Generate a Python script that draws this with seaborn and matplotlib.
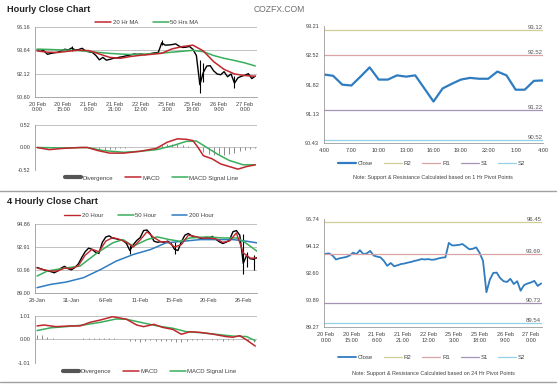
import numpy as np
import matplotlib.pyplot as plt
from matplotlib.lines import Line2D
import seaborn as sns

sns.set_style("white")
plt.rcParams['font.family'] = ['Liberation Sans', 'DejaVu Sans']

# ---------------- hourly data (20 Feb 0:00 -> 27 Feb) ----------------
hr_idx = list(range(0, 127, 2))
hr_close = [93.70, 93.72, 93.60, 93.38, 93.44, 93.48, 93.52, 93.60, 93.76, 93.68,
            93.90, 93.68, 93.72, 93.86, 93.60, 93.54, 93.50, 93.30, 93.02, 93.18,
            93.00, 93.05, 93.12, 93.15, 93.20, 93.24, 93.30, 93.34, 93.40, 93.38,
            93.40, 93.36, 93.38, 93.44, 93.48, 93.50, 94.45, 94.20, 94.22, 94.26,
            94.34, 94.10, 93.95, 93.98, 94.06, 93.75, 93.30, 91.40, 92.20, 92.62,
            92.64, 92.30, 92.10, 92.05, 92.25, 91.92, 92.10, 91.50, 91.85, 91.95,
            92.02, 92.12, 91.80, 91.96]
hr_wick_idx = [20, 72, 94, 96, 114]
hr_wick_low = [93.60, 94.20, 90.85, 91.60, 91.20]
hr_wick_high = [94.10, 94.75, 93.00, 92.80, 92.00]

hr_ma_idx = list(range(0, 127, 6))
hr_ma20 = [93.60, 93.52, 93.50, 93.58, 93.66, 93.62, 93.40, 93.18, 93.12, 93.24,
           93.32, 93.38, 93.45, 93.80, 94.05, 94.20, 93.60, 92.90, 92.40, 92.10,
           92.00, 91.95]
hr_ma60 = [93.77, 93.74, 93.70, 93.66, 93.62, 93.56, 93.50, 93.44, 93.40, 93.37,
           93.38, 93.42, 93.46, 93.52, 93.58, 93.64, 93.55, 93.30, 93.12, 92.98,
           92.82, 92.62]

hr_macd_idx = [0, 7, 15, 25, 29, 35, 42, 50, 59, 69, 75, 81, 86, 90, 93, 96, 101, 106, 111, 116, 121, 126]
hr_macd = [0.00, -0.05, -0.02, 0.00, 0.00, -0.07, -0.13, -0.13, -0.09, -0.02, 0.12,
           0.20, 0.19, 0.16, 0.00, -0.19, -0.26, -0.38, -0.44, -0.50, -0.44, -0.40]
hr_signal_idx = [0, 15, 29, 38, 50, 59, 69, 79, 86, 92, 98, 104, 111, 119, 126]
hr_signal = [0.00, -0.01, 0.00, -0.07, -0.11, -0.09, -0.05, 0.05, 0.14, 0.15, 0.00,
             -0.15, -0.30, -0.40, -0.40]
hr_div_idx = list(range(0, 127, 3))
hr_div = [0.00, -0.01, -0.02, -0.01, 0.00, 0.01, 0.01, 0.01, 0.02, 0.01, -0.01,
          -0.03, -0.04, -0.05, -0.04, -0.03, -0.02, -0.01, 0.00, 0.01, 0.01, 0.02,
          0.02, 0.03, 0.05, 0.07, 0.08, 0.07, 0.06, 0.04, 0.02, -0.04, -0.10, -0.15,
          -0.18, -0.16, -0.18, -0.15, -0.12, -0.08, -0.05, -0.03, -0.01]

hr_ticks = list(range(0, 121, 15))
hr_tick_labels = ['20 Feb\n0:00', '20 Feb\n15:00', '21 Feb\n6:00', '21 Feb\n21:00',
                  '22 Feb\n12:00', '25 Feb\n3:00', '25 Feb\n18:00', '26 Feb\n9:00',
                  '27 Feb\n0:00']
hr_price_ticks = [90.60, 92.12, 93.64, 96.16]
hr_macd_ticks = [-0.52, 0.00, 0.52]

# ---------------- 1 hr pivot chart (last 24 hours) ----------------
p1_hours = list(range(25))
p1_close = [92.06, 92.03, 91.82, 91.80, 92.01, 92.23, 91.94, 91.94, 92.04, 92.01,
            92.04, 91.73, 91.42, 91.73, 91.84, 91.94, 91.98, 91.96, 91.96, 92.13,
            92.04, 91.70, 91.70, 91.91, 91.92]
p1_levels = {'R2': 93.12, 'R1': 92.52, 'S1': 91.22, 'S2': 90.52}
p1_ticks = [90.43, 91.13, 91.82, 92.52, 93.21]
p1_xlabels = ['4:00', '7:00', '10:00', '13:00', '16:00', '19:00', '22:00', '1:00', '4:00']

# ---------------- 4 hourly data ----------------
h4_idx = list(range(0, 129, 2))
h4_close = [91.15, 91.05, 90.95, 90.85, 90.80, 90.70, 90.85, 91.10, 91.25, 91.05,
            90.95, 91.15, 91.45, 92.00, 92.50, 92.80, 92.70, 92.45, 92.35, 93.30,
            93.75, 93.85, 93.65, 93.60, 93.50, 93.45, 93.20, 92.60, 93.10, 93.45,
            93.70, 94.30, 94.35, 94.00, 93.40, 93.30, 93.35, 93.30, 93.40, 93.20,
            92.70, 92.60, 93.35, 93.90, 94.05, 93.85, 93.75, 93.70, 93.60, 93.70,
            93.65, 93.80, 93.55, 93.35, 93.20, 93.30, 93.50, 94.20, 94.30, 93.90,
            91.50, 92.20, 91.90, 91.85, 92.00]
h4_wick_idx = [54, 80, 120, 122, 126]
h4_wick_low = [92.30, 92.30, 90.60, 91.20, 90.90]
h4_wick_high = [93.10, 93.30, 94.00, 92.50, 92.20]

h4_ma20_idx = list(range(0, 129, 4))
h4_ma20 = [91.10, 90.95, 90.85, 90.85, 91.10, 91.05, 91.30, 92.20, 92.70, 92.50,
           93.40, 93.70, 93.55, 93.30, 92.90, 93.50, 94.20, 93.70, 93.35, 93.35,
           92.90, 93.10, 93.90, 93.80, 93.65, 93.65, 93.60, 93.30, 93.40, 94.10,
           92.40, 91.95, 91.95]
h4_ma50_idx = [0, 6, 15, 25, 35, 44, 50, 56, 64, 70, 77, 83, 89, 99, 108, 116, 120, 124, 128]
h4_ma50 = [90.42, 90.85, 91.07, 91.27, 92.40, 93.25, 93.53, 92.97, 93.53, 93.76,
           93.53, 93.39, 93.67, 93.76, 93.67, 93.67, 93.39, 92.97, 92.54]
h4_ma200_idx = [0, 8, 17, 27, 37, 46, 56, 66, 75, 85, 95, 105, 114, 122, 128]
h4_ma200 = [89.43, 89.71, 89.91, 90.28, 90.98, 91.69, 92.26, 92.68, 93.25, 93.39,
            93.53, 93.53, 93.53, 93.39, 93.25]

h4_macd_idx = [0, 4, 11, 19, 25, 31, 37, 44, 52, 58, 62, 68, 73, 79, 84, 89, 95, 102, 110, 114, 118, 122, 127]
h4_macd = [0.58, 0.62, 0.55, 0.58, 0.58, 0.74, 0.84, 0.98, 0.87, 0.62, 0.55, 0.65,
           0.52, 0.43, 0.22, 0.33, 0.30, 0.23, 0.12, 0.09, 0.16, -0.03, -0.29]
h4_signal_idx = [0, 8, 17, 27, 37, 46, 52, 60, 70, 79, 87, 95, 104, 114, 122, 127]
h4_signal = [0.38, 0.50, 0.55, 0.62, 0.74, 0.88, 0.87, 0.74, 0.58, 0.48, 0.33, 0.29,
             0.22, 0.14, 0.12, -0.06]
h4_div_idx = list(range(0, 130, 3))
h4_div = [0.20, 0.18, 0.10, 0.05, 0.03, 0.02, 0.01, 0.00, 0.02, 0.05, 0.07, 0.08,
          0.06, 0.07, 0.08, 0.06, 0.03, 0.00, -0.05, -0.09, -0.11, -0.08, -0.04,
          -0.05, -0.06, -0.07, -0.08, -0.10, -0.12, -0.07, -0.03, -0.02, -0.01,
          0.00, -0.01, -0.03, -0.05, -0.04, -0.02, 0.03, 0.02, -0.06, -0.12, -0.15]

h4_ticks = list(range(0, 121, 20))
h4_tick_labels = ['28-Jan', '31-Jan', '6-Feb', '11-Feb', '15-Feb', '20-Feb', '26-Feb']
h4_price_ticks = [89.00, 90.96, 92.91, 94.86]
h4_macd_ticks = [-1.01, 0.00, 1.01]

# ---------------- 24 hr pivot chart ----------------
p24_levels = {'R2': 96.45, 'R1': 93.69, 'S1': 90.73, 'S2': 89.54}
p24_ticks = [89.27, 90.89, 92.60, 94.12, 96.74]

# colours
RED = '#c0272d'
GREEN = '#3aae5c'
BLUE = '#2f7cc0'
GRID = '#b8b8b8'
SPINE = '#9a9a9a'
TXT = '#404040'
LVL_COL = {'R2': '#cfcf96', 'R1': '#dba3a3', 'S1': '#a493b5', 'S2': '#92d2e8'}

W, H = 560, 385
fig = plt.figure(figsize=(5.6, 3.85), dpi=100)


def add_ax(l, t, r, b):
    return fig.add_axes([l / W, 1 - b / H, (r - l) / W, (b - t) / H])


def ftext(x, y, s, **kw):
    fig.text(x / W, 1 - y / H, s, **kw)


def step_scale(ax, ticks):
    # axis where the labelled ticks sit evenly spaced
    t = np.array(ticks, float)
    pos = np.arange(len(t), dtype=float)
    tx = np.concatenate([[t[0] - 100 * (t[1] - t[0])], t, [t[-1] + 100 * (t[-1] - t[-2])]])
    px = np.concatenate([[-100.0], pos, [pos[-1] + 100]])
    ax.set_yscale('function', functions=(lambda v: np.interp(v, tx, px),
                                         lambda p: np.interp(p, px, tx)))


def style(ax, grid=True):
    for s in ['top', 'right']:
        ax.spines[s].set_visible(False)
    for s in ['left', 'bottom']:
        ax.spines[s].set_color(SPINE)
        ax.spines[s].set_linewidth(0.6)
    ax.tick_params(labelsize=4, colors=TXT, length=2, width=0.5, pad=1.5)
    ax.tick_params(axis='both', color=SPINE)
    if grid:
        ax.yaxis.grid(True, color=GRID, lw=0.6)
        ax.set_axisbelow(True)
    ax.set_xlabel('')
    ax.set_ylabel('')


def mini_legend(handles, labels, x, y, colsp=2.0, hl=2.6):
    fig.legend(handles, labels, loc='center', bbox_to_anchor=(x / W, 1 - y / H),
               ncol=len(handles), frameon=False, fontsize=4.3, handlelength=hl,
               handletextpad=0.3, columnspacing=colsp, borderpad=0, labelcolor=TXT)


# ================= header =================
ftext(7, 9, 'Hourly Close Chart', fontsize=6.6, fontweight='bold', va='center', color='#222222')
ftext(279, 10, 'COZFX.COM', fontsize=6.2, va='center', ha='center', color='#707070')

# ================= hourly price =================
ax = add_ax(35, 27, 257, 97)
ax.vlines(hr_wick_idx, hr_wick_low, hr_wick_high, color='black', lw=0.8)
sns.lineplot(x=hr_idx, y=hr_close, ax=ax, color='black', lw=1.0)
sns.lineplot(x=hr_ma_idx, y=hr_ma60, ax=ax, color=GREEN, lw=1.1)
l_ma60 = ax.lines[-1]
sns.lineplot(x=hr_ma_idx, y=hr_ma20, ax=ax, color=RED, lw=1.1)
l_ma20 = ax.lines[-1]
step_scale(ax, hr_price_ticks)
ax.set_ylim(hr_price_ticks[0], hr_price_ticks[-1])
ax.set_yticks(hr_price_ticks)
ax.set_yticklabels([f'{v:.2f}' for v in hr_price_ticks])
ax.yaxis.set_minor_locator(plt.NullLocator())
ax.set_xlim(-1.2, 127)
ax.set_xticks(hr_ticks)
ax.set_xticklabels(hr_tick_labels, linespacing=1.1)
style(ax)
mini_legend([l_ma20, l_ma60], ['20 Hr MA', '50 Hrs MA'], 147, 22.7, colsp=2.5)

# ================= hourly MACD =================
ax = add_ax(35, 125, 257, 170)
ax.vlines(hr_div_idx, 0, hr_div, color='#8a8a8a', lw=0.7)
sns.lineplot(x=hr_signal_idx, y=hr_signal, ax=ax, color=GREEN, lw=1.1)
l_sig = ax.lines[-1]
sns.lineplot(x=hr_macd_idx, y=hr_macd, ax=ax, color=RED, lw=1.1)
l_macd = ax.lines[-1]
ax.set_ylim(-0.52, 0.52)
ax.set_yticks(hr_macd_ticks)
ax.set_yticklabels([f'{v:.2f}' for v in hr_macd_ticks])
ax.set_xlim(-1.2, 127)
ax.set_xticks([])
style(ax)
ax.spines['bottom'].set_visible(False)
div_handle = Line2D([], [], color='#555555', lw=3)
mini_legend([div_handle, l_macd, l_sig], ['Divergence', 'MACD', 'MACD Signal Line'], 152, 178)

# ================= 1 hr pivot =================
ax = add_ax(324, 26, 543, 143.3)
handles = []
sns.lineplot(x=p1_hours, y=p1_close, ax=ax, color=BLUE, lw=1.6)
handles.append(ax.lines[-1])
for k, v in p1_levels.items():
    handles.append(ax.axhline(v, color=LVL_COL[k], lw=0.9))
    ax.text(24, v, f'{v:.2f}', ha='right', va='bottom', fontsize=4.3, color='#555555')
ax.set_ylim(p1_ticks[0], p1_ticks[-1])
ax.set_yticks(p1_ticks)
ax.set_yticklabels([f'{v:.2f}' for v in p1_ticks])
ax.set_xlim(0, 24)
ax.set_xticks(list(range(0, 25, 3)))
ax.set_xticklabels(p1_xlabels)
style(ax, grid=False)
mini_legend(handles, ['Close', 'R2', 'R1', 'S1', 'S2'], 432, 163, colsp=1.8, hl=3.0)
ftext(433, 178, 'Note: Support & Resistance Calculated based on 1 Hr Pivot Points',
      fontsize=3.9, ha='center', va='center', color=TXT)

# ================= dividers =================
fig.add_artist(Line2D([0, 556 / W], [1 - 191 / H, 1 - 191 / H], color='#a0a0a0', lw=1.0))
fig.add_artist(Line2D([0, 556 / W], [1 - 382 / H, 1 - 382 / H], color='#a0a0a0', lw=1.0))

# ================= 4 hourly price =================
ftext(7, 202, '4 Hourly Close Chart', fontsize=6.6, fontweight='bold', va='center', color='#222222')
ax = add_ax(35, 224, 257, 292.7)
ax.vlines(h4_wick_idx, h4_wick_low, h4_wick_high, color='black', lw=0.8)
sns.lineplot(x=h4_idx, y=h4_close, ax=ax, color='black', lw=1.0)
sns.lineplot(x=h4_ma200_idx, y=h4_ma200, ax=ax, color=BLUE, lw=1.1)
l200 = ax.lines[-1]
sns.lineplot(x=h4_ma50_idx, y=h4_ma50, ax=ax, color=GREEN, lw=1.1)
l50 = ax.lines[-1]
sns.lineplot(x=h4_ma20_idx, y=h4_ma20, ax=ax, color=RED, lw=1.0)
l20 = ax.lines[-1]
ax.set_ylim(h4_price_ticks[0], h4_price_ticks[-1])
ax.set_yticks(h4_price_ticks)
ax.set_yticklabels([f'{v:.2f}' for v in h4_price_ticks])
ax.set_xlim(-1.2, 128)
ax.set_xticks(h4_ticks)
ax.set_xticklabels(h4_tick_labels)
style(ax)
mini_legend([l20, l50, l200], ['20 Hour', '50 Hour', '200 Hour'], 139, 215, colsp=2.5)

# ================= 4 hourly MACD =================
ax = add_ax(35, 316, 257, 362.7)
ax.vlines(h4_div_idx, 0, h4_div, color='#8a8a8a', lw=0.7)
sns.lineplot(x=h4_signal_idx, y=h4_signal, ax=ax, color=GREEN, lw=1.1)
l_sig = ax.lines[-1]
sns.lineplot(x=h4_macd_idx, y=h4_macd, ax=ax, color=RED, lw=1.1)
l_macd = ax.lines[-1]
ax.set_ylim(-1.01, 1.01)
ax.set_yticks(h4_macd_ticks)
ax.set_yticklabels([f'{v:.2f}' for v in h4_macd_ticks])
ax.set_xlim(-1.2, 128)
ax.set_xticks([])
style(ax)
ax.spines['bottom'].set_visible(False)
mini_legend([div_handle, l_macd, l_sig], ['Divergence', 'MACD', 'MACD Signal Line'], 150, 371)

# ================= 24 hr pivot =================
ax = add_ax(324, 219.3, 542, 327.3)
handles = []
sns.lineplot(x=hr_idx, y=hr_close, ax=ax, color=BLUE, lw=1.3)
handles.append(ax.lines[-1])
for k, v in p24_levels.items():
    handles.append(ax.axhline(v, color=LVL_COL[k], lw=0.9))
    ax.text(126, v, f'{v:.2f}', ha='right', va='bottom', fontsize=4.3, color='#555555')
step_scale(ax, p24_ticks)
ax.set_ylim(p24_ticks[0], p24_ticks[-1])
ax.set_yticks(p24_ticks)
ax.set_yticklabels([f'{v:.2f}' for v in p24_ticks])
ax.yaxis.set_minor_locator(plt.NullLocator())
ax.set_xlim(-1, 126.5)
ax.set_xticks(hr_ticks)
ax.set_xticklabels(hr_tick_labels, linespacing=1.1)
style(ax, grid=False)
mini_legend(handles, ['Close', 'R2', 'R1', 'S1', 'S2'], 432, 357, colsp=1.8, hl=3.0)
ftext(433, 373, 'Note: Support & Resistance Calculated based on 24 Hr Pivot Points',
      fontsize=3.9, ha='center', va='center', color=TXT)

fig.savefig('out.png', dpi=100)
